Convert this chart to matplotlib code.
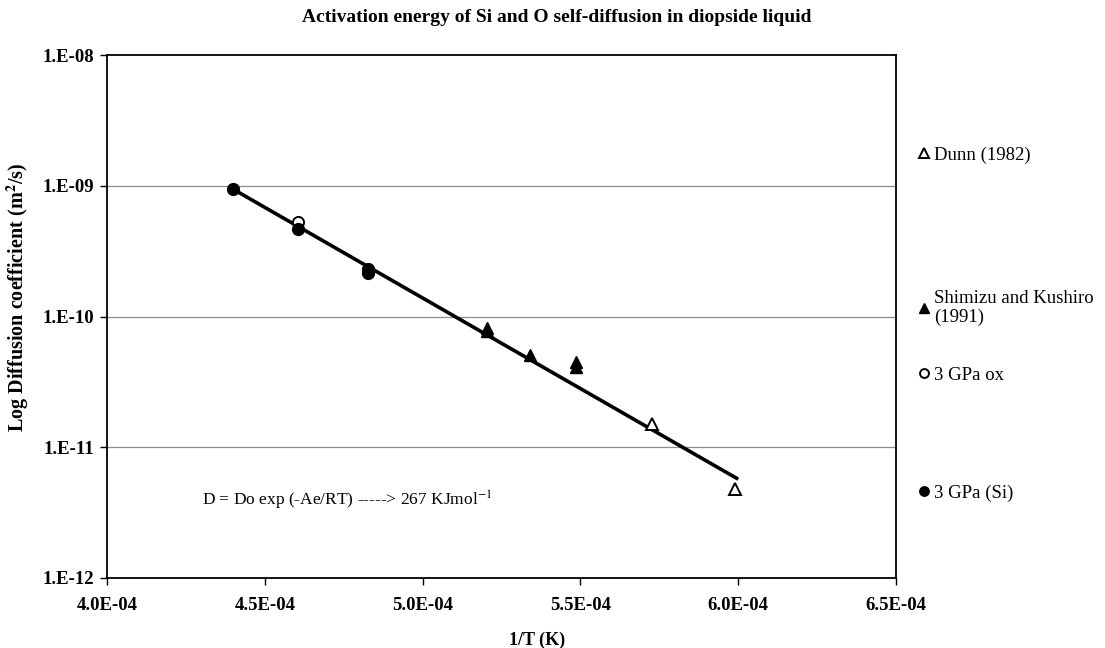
import matplotlib
matplotlib.use("Agg")
import matplotlib.pyplot as plt
from matplotlib.ticker import NullLocator

plt.rcParams['font.family'] = ['Liberation Serif', 'DejaVu Serif']
plt.rcParams['mathtext.fontset'] = 'stix'

# ---- data ----
dunn_x = [5.727e-4, 5.990e-4]
dunn_y = [1.51e-11, 4.8e-12]

shimizu_x = [5.203e-4, 5.203e-4, 5.340e-4, 5.486e-4, 5.486e-4]
shimizu_y = [8.2e-11, 7.7e-11, 5.1e-11, 4.5e-11, 4.1e-11]

ox_x = [4.604e-4]
ox_y = [5.25e-10]

si_x = [4.399e-4, 4.604e-4, 4.826e-4, 4.826e-4]
si_y = [9.4e-10, 4.65e-10, 2.31e-10, 2.15e-10]

fit_x = [4.40e-4, 6.00e-4]
fit_y = [9.4e-10, 5.7e-12]

x_ticks = [4.0e-4, 4.5e-4, 5.0e-4, 5.5e-4, 6.0e-4, 6.5e-4]
x_tick_labels = ['4.0E-04', '4.5E-04', '5.0E-04', '5.5E-04', '6.0E-04', '6.5E-04']
y_ticks = [1e-12, 1e-11, 1e-10, 1e-9, 1e-8]
y_tick_labels = ['1.E-12', '1.E-11', '1.E-10', '1.E-09', '1.E-08']

labels = ['Dunn (1982)', 'Shimizu and Kushiro\n(1991)', '3 GPa ox', '3 GPa (Si)']

# ---- figure ----
W, H = 1105, 648
fig = plt.figure(figsize=(W / 100, H / 100), dpi=100)
ax = fig.add_axes([107 / W, 1 - 578 / H, (896 - 107) / W, (578 - 55) / H])

ax.set_yscale('log')
ax.set_xlim(4.0e-4, 6.5e-4)
ax.set_ylim(1e-12, 1e-8)

for yv in y_ticks[1:-1]:
    ax.axhline(yv, color='#8c8c8c', lw=0.9, zorder=1)

ax.plot(fit_x, fit_y, color='black', lw=2.6, zorder=2, solid_capstyle='butt')

h_dunn, = ax.plot(dunn_x, dunn_y, ls='none', marker='^', ms=9, mfc='white',
                  mec='black', mew=1.4, zorder=3)
h_shim, = ax.plot(shimizu_x, shimizu_y, ls='none', marker='^', ms=9, mfc='black',
                  mec='black', mew=1.0, zorder=3)
h_ox, = ax.plot(ox_x, ox_y, ls='none', marker='o', ms=8, mfc='white',
                mec='black', mew=1.4, zorder=3)
h_si, = ax.plot(si_x, si_y, ls='none', marker='o', ms=8.5, mfc='black',
                mec='black', mew=1.0, zorder=4)

ax.set_xticks(x_ticks)
ax.set_xticklabels(x_tick_labels)
ax.set_yticks(y_ticks)
ax.set_yticklabels(y_tick_labels)
ax.yaxis.set_minor_locator(NullLocator())

for lab in ax.get_xticklabels() + ax.get_yticklabels():
    lab.set_fontweight('bold')
    lab.set_fontsize(13.5)
ax.tick_params(axis='y', direction='out', length=5, width=1, pad=4)
ax.tick_params(axis='x', direction='out', length=5, width=1, pad=9)

for sp in ax.spines.values():
    sp.set_color('black')
    sp.set_linewidth(1.3)

fig.text(537 / W, 1 - 640 / H, '1/T (K)', ha='center', va='center',
         fontsize=13, fontweight='bold')
fig.text(18 / W, 1 - 297 / H, 'Log Diffusion coefficient (m$^{\\mathbf{2}}$/s)',
         ha='center', va='center', rotation=90, fontsize=14.5, fontweight='bold')

fig.text(557 / W, 1 - 18 / H, 'Activation energy of Si and O self-diffusion in diopside liquid',
         ha='center', va='center', fontsize=14, fontweight='bold')

ax.text((202 - 107) / 789, (578 - 500) / 523,
        'D = Do exp (-Ae/RT) -----> 267 KJmol$^{-1}$',
        transform=ax.transAxes, ha='left', va='center', fontsize=12.5)

# legend entries
handles = [h_dunn, h_shim, h_ox, h_si]
leg_y = [155, 308, 375, 493]
for h, lab, yy in zip(handles, labels, leg_y):
    fig.legend([h], [lab], loc='center left',
               bbox_to_anchor=(916 / W, 1 - yy / H), frameon=False,
               fontsize=13.5, handletextpad=0.15, handlelength=0.8,
               borderaxespad=0, borderpad=0, markerscale=0.8,
               labelspacing=0.1)

fig.savefig('out.png', dpi=100)
